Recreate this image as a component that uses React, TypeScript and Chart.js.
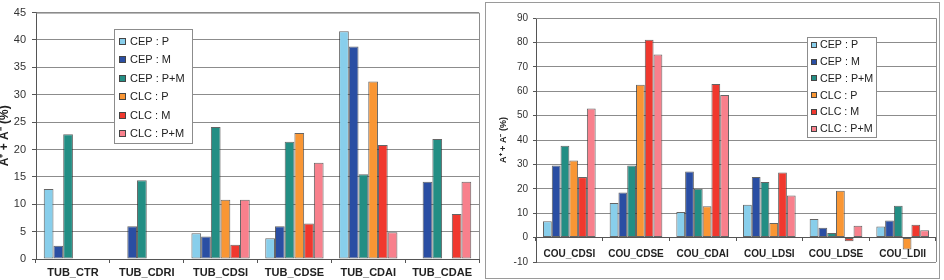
import React, { useEffect, useRef } from 'react';
import { Chart, registerables } from 'chart.js';
Chart.register(...registerables);

const FONT = "'Liberation Sans', Arial, Helvetica, sans-serif";

const seriesLabels = ['CEP : P', 'CEP : M', 'CEP : P+M', 'CLC : P', 'CLC : M', 'CLC : P+M'];
const seriesColors = ['#88CEEB', '#2A4EA3', '#238E84', '#F99634', '#F0382E', '#F8808C'];

const tubCategories = ['TUB_CTR', 'TUB_CDRI', 'TUB_CDSI', 'TUB_CDSE', 'TUB_CDAI', 'TUB_CDAE'];
const tubCepP = [12.8, null, 4.7, 3.8, 41.6, null];
const tubCepM = [2.4, 6.0, 4.1, 6.0, 38.8, 14.1];
const tubCepPM = [22.8, 14.4, 24.1, 21.4, 15.5, 21.9];
const tubClcP = [null, null, 10.8, 23.0, 32.4, null];
const tubClcM = [null, null, 2.6, 6.5, 20.8, 8.2];
const tubClcPM = [null, null, 10.8, 17.6, 4.9, 14.1];
const tubYMin = 0;
const tubYMax = 45;
const tubYStep = 5;

const couCategories = ['COU_CDSI', 'COU_CDSE', 'COU_CDAI', 'COU_LDSI', 'COU_LDSE', 'COU_LDII'];
const couCepP = [6.7, 14.2, 10.5, 13.5, 7.6, 4.6];
const couCepM = [29.5, 18.5, 27.1, 24.8, 4.0, 7.0];
const couCepPM = [37.6, 29.5, 20.0, 22.8, 1.9, 13.1];
const couClcP = [31.6, 62.6, 12.8, 6.0, 19.2, -4.9];
const couClcM = [24.8, 81.1, 63.0, 26.7, -1.5, 5.3];
const couClcPM = [52.9, 75.0, 58.4, 17.3, 4.9, 3.0];
const couYMin = -10;
const couYMax = 90;
const couYStep = 10;

const yTitle = 'A\u207A + A\u207B (%)';

const boxLegend = {
  id: 'boxLegend',
  afterDraw(chart: any, _args: any, o: any) {
    const ctx = chart.ctx;
    ctx.save();
    ctx.fillStyle = '#ffffff';
    ctx.fillRect(o.x, o.y, o.w, o.h);
    ctx.strokeStyle = '#8c8c8c';
    ctx.lineWidth = 1;
    ctx.strokeRect(o.x + 0.5, o.y + 0.5, o.w, o.h);
    chart.data.datasets.forEach((ds: any, i: number) => {
      const cy = o.y + o.firstY + i * o.rowH;
      const mx = o.x + o.markerX;
      const my = Math.round(cy - o.marker / 2);
      ctx.fillStyle = ds.backgroundColor;
      ctx.fillRect(mx, my, o.marker, o.marker);
      ctx.strokeStyle = '#444';
      ctx.strokeRect(mx + 0.5, my + 0.5, o.marker - 1, o.marker - 1);
      ctx.fillStyle = '#222';
      ctx.font = `${o.fontSize}px ${FONT}`;
      ctx.textBaseline = 'middle';
      ctx.textAlign = 'left';
      ctx.fillText(ds.label, o.x + o.textX, cy + 0.5);
    });
    ctx.restore();
  },
};

const plotBorder = {
  id: 'plotBorder',
  beforeDatasetsDraw(chart: any) {
    const { ctx, chartArea } = chart;
    ctx.save();
    ctx.strokeStyle = '#8c8c8c';
    ctx.lineWidth = 1;
    ctx.beginPath();
    ctx.moveTo(chartArea.left, chartArea.top + 0.5);
    ctx.lineTo(chartArea.right + 0.5, chartArea.top + 0.5);
    ctx.lineTo(chartArea.right + 0.5, chartArea.bottom);
    ctx.stroke();
    ctx.restore();
  },
};

function makeDatasets(series: (number | null)[][]) {
  return series.map((data, i) => ({
    label: seriesLabels[i],
    data,
    backgroundColor: seriesColors[i],
    borderColor: 'rgba(50,50,50,0.75)',
    borderWidth: 1,
    borderSkipped: false,
    barPercentage: 1,
    categoryPercentage: 0.79,
  }));
}

type Props = {
  width: number;
  height: number;
  config: any;
};

function ChartCanvas({ width, height, config }: Props) {
  const ref = useRef<HTMLCanvasElement>(null);
  useEffect(() => {
    if (!ref.current) return;
    const chart = new Chart(ref.current, config);
    return () => chart.destroy();
  }, []);
  return <canvas ref={ref} width={width} height={height} style={{ width, height, display: 'block' }} />;
}

const leftConfig = {
  type: 'bar',
  data: {
    labels: tubCategories,
    datasets: makeDatasets([tubCepP, tubCepM, tubCepPM, tubClcP, tubClcM, tubClcPM]),
  },
  plugins: [plotBorder, boxLegend],
  options: {
    responsive: false,
    maintainAspectRatio: false,
    animation: false,
    devicePixelRatio: 1,
    layout: { padding: { left: 0, top: 4, right: 5, bottom: 0 } },
    plugins: {
      legend: { display: false },
      tooltip: { enabled: false },
      boxLegend: { x: 114, y: 29, w: 78, h: 114, firstY: 12, rowH: 18.5, marker: 7, markerX: 5, textX: 16, fontSize: 11 },
    },
    scales: {
      x: {
        afterFit: (s: any) => { s.height = 21; },
        grid: { display: true, drawOnChartArea: false, drawTicks: true, offset: true, tickLength: 4, tickColor: '#555' },
        border: { display: true, color: '#555' },
        ticks: { autoSkip: false, maxRotation: 0, padding: 3, color: '#222', font: { family: FONT, size: 11, weight: 'bold' } },
      },
      y: {
        min: tubYMin,
        max: tubYMax,
        afterFit: (s: any) => { s.width = 36; },
        grid: { color: '#8c8c8c', tickColor: '#555', tickLength: 4 },
        border: { display: true, color: '#555' },
        ticks: { stepSize: tubYStep, padding: 6, color: '#333', font: { family: FONT, size: 11 } },
        title: { display: true, text: yTitle, color: '#222', padding: { top: -1, bottom: 0 }, font: { family: FONT, size: 12, weight: 'bold', lineHeight: 1 } },
      },
    },
  },
};

const rightConfig = {
  type: 'bar',
  data: {
    labels: couCategories,
    datasets: makeDatasets([couCepP, couCepM, couCepPM, couClcP, couClcM, couClcPM]),
  },
  plugins: [plotBorder, boxLegend],
  options: {
    responsive: false,
    maintainAspectRatio: false,
    animation: false,
    devicePixelRatio: 1,
    layout: { padding: { left: 0, top: 15, right: 3, bottom: 16 } },
    plugins: {
      legend: { display: false },
      tooltip: { enabled: false },
      boxLegend: { x: 321, y: 34, w: 69, h: 100, firstY: 8, rowH: 16.7, marker: 6, markerX: 4, textX: 13, fontSize: 10.7 },
    },
    scales: {
      x: {
        axis: 'x',
        position: { y: 0 },
        afterFit: (s: any) => { s.height = 0; },
        grid: { display: true, drawOnChartArea: false, drawTicks: true, offset: true, tickLength: 3, tickColor: '#555' },
        border: { display: true, color: '#555' },
        ticks: { autoSkip: false, maxRotation: 0, padding: 8, color: '#222', font: { family: FONT, size: 10, weight: 'bold' } },
      },
      y: {
        min: couYMin,
        max: couYMax,
        afterFit: (s: any) => { s.width = 50; },
        grid: { color: '#8c8c8c', tickColor: '#555', tickLength: 3 },
        border: { display: true, color: '#555' },
        ticks: { stepSize: couYStep, padding: 5, color: '#333', font: { family: FONT, size: 10 } },
        title: { display: true, text: yTitle, color: '#222', padding: { top: 13, bottom: 0 }, font: { family: FONT, size: 9, weight: 'bold', lineHeight: 1 } },
      },
    },
  },
};

export default function App() {
  return (
    <div style={{ position: 'absolute', left: 0, top: 0, width: 944, height: 280, background: '#ffffff', overflow: 'hidden' }}>
      <div style={{ position: 'absolute', left: 0, top: 0, width: 484, height: 280 }}>
        <ChartCanvas width={484} height={280} config={leftConfig} />
      </div>
      <div style={{ position: 'absolute', left: 485, top: 2, width: 455, height: 277, boxSizing: 'border-box', border: '1px solid #9a9a9a' }}>
        <ChartCanvas width={453} height={275} config={rightConfig} />
      </div>
    </div>
  );
}
